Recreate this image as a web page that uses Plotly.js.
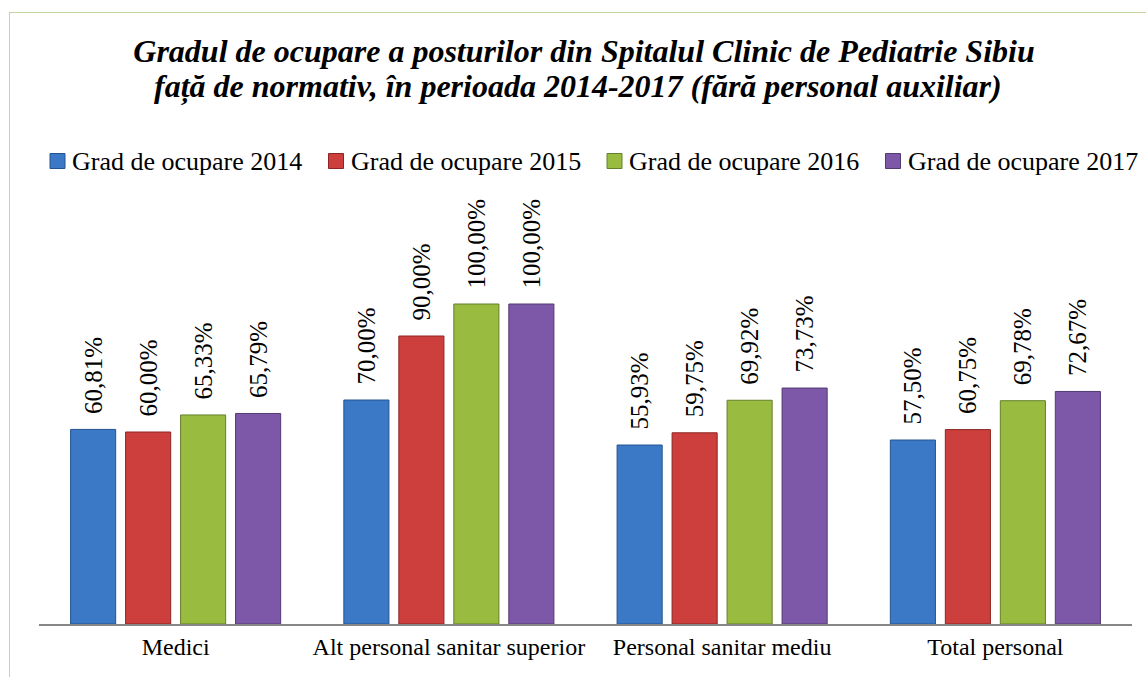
<!DOCTYPE html>
<html>
<head>
<meta charset="utf-8">
<script src="https://cdn.plot.ly/plotly-3.0.1.min.js"></script>
<style>
  html, body { margin: 0; padding: 0; background: #fff; }
  #wrap { position: relative; width: 1146px; height: 677px; }
  #chart { width: 1146px; height: 677px; }
  #frame { position: absolute; left: 9px; top: 12px; width: 1150px; height: 700px;
           border: 1px solid #c3d69b; box-sizing: border-box; pointer-events: none; }
</style>
</head>
<body>
<div id="wrap">
  <div id="chart"></div>
  <div id="frame"></div>
</div>
<script>
const categories = ["Medici", "Alt personal sanitar superior", "Personal sanitar mediu", "Total personal"];
const seriesNames = ["Grad de ocupare 2014", "Grad de ocupare 2015", "Grad de ocupare 2016", "Grad de ocupare 2017"];
const values2014 = [60.81, 70.00, 55.93, 57.50];
const values2015 = [60.00, 90.00, 59.75, 60.75];
const values2016 = [65.33, 100.00, 69.92, 69.78];
const values2017 = [65.79, 100.00, 73.73, 72.67];
const titleLine1 = "Gradul de ocupare a posturilor din Spitalul Clinic de Pediatrie Sibiu";
const titleLine2 = "față de normativ, în perioada 2014-2017 (fără personal auxiliar)";
const colors = ["#3b78c6", "#cc3f3c", "#98bb40", "#7d58a8"];
const lineColors = ["#24548f", "#8e2523", "#64802a", "#523a73"];

const allValues = [values2014, values2015, values2016, values2017];
const fmt = v => '\u00a0\u00a0' + v.toFixed(2).replace('.', ',') + '%';
const FONT = "'Times New Roman', 'Liberation Serif', serif";

// layout geometry (pixels)
const W = 1146, H = 677, ML = 39, MR = 14, MT = 224, MB = 53;
const PW = W - ML - MR, PH = H - MT - MB;
const px2x = p => (p - ML) / PW;
const py2y = p => 1 + (MT - p) / PH;

const labelFont = { family: FONT, size: 25, color: '#000' };

const traces = allValues.map((vals, i) => ({
  type: 'bar',
  name: seriesNames[i],
  x: categories,
  y: vals,
  text: vals.map(fmt),
  textposition: 'outside',
  textangle: -90,
  constraintext: 'none',
  cliponaxis: false,
  textfont: labelFont,
  outsidetextfont: labelFont,
  marker: { color: colors[i], line: { color: lineColors[i], width: 1 } },
  hoverinfo: 'x+y+name'
}));

// custom legend (swatch + label) matching the reference spacing
const legendY = 161, legendStart = 50, legendStep = 278.5, sw = 15;
const shapes = [];
const annotations = [{
  text: "<b><i>" + titleLine2 + "</i></b>",
  font: { family: FONT, size: 32, color: '#000' },
  xref: 'paper', yref: 'paper',
  x: px2x(578), xanchor: 'center',
  y: py2y(86), yanchor: 'middle',
  showarrow: false
}];
seriesNames.forEach((name, i) => {
  const x0 = legendStart + i * legendStep;
  shapes.push({
    type: 'rect', xref: 'paper', yref: 'paper',
    x0: px2x(x0), x1: px2x(x0 + sw),
    y0: py2y(legendY + sw / 2), y1: py2y(legendY - sw / 2),
    fillcolor: colors[i], line: { color: lineColors[i], width: 1 }
  });
  annotations.push({
    text: name, xref: 'paper', yref: 'paper',
    x: px2x(x0 + sw + 5), xanchor: 'left',
    y: py2y(legendY), yanchor: 'middle',
    font: { family: FONT, size: 26, color: '#000' },
    showarrow: false
  });
});

const layout = {
  width: W, height: H,
  margin: { l: ML, r: MR, t: MT, b: MB },
  paper_bgcolor: '#fff', plot_bgcolor: '#fff',
  font: { family: FONT, color: '#000' },
  title: {
    text: "<b><i>" + titleLine1 + "</i></b>",
    font: { family: FONT, size: 32, color: '#000' },
    x: 584 / W, xanchor: 'center', xref: 'container',
    y: 1 - 51 / H, yanchor: 'middle', yref: 'container'
  },
  annotations: annotations,
  shapes: shapes,
  barmode: 'group',
  bargap: 0.195,
  bargroupgap: 0.18,
  showlegend: false,
  xaxis: {
    showline: true, linecolor: '#868686', linewidth: 2,
    ticks: '', tickfont: { family: FONT, size: 24, color: '#000' },
    showgrid: false, zeroline: false
  },
  yaxis: {
    range: [0, 125], visible: false, showgrid: false, zeroline: false
  }
};

Plotly.newPlot('chart', traces, layout, { displayModeBar: false });
</script>
</body>
</html>
